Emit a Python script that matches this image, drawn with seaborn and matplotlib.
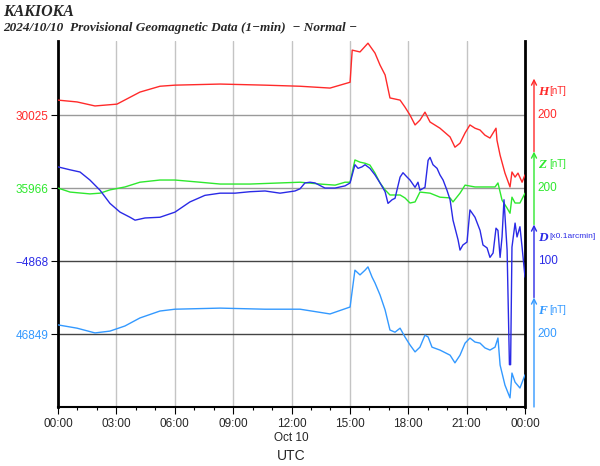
import numpy as np
import pandas as pd
import matplotlib
matplotlib.use("Agg")
import matplotlib.pyplot as plt
import seaborn as sns

# Provisional 1-min data (hours UTC, values)
h_time = [0, 0.98, 1.9, 3.03, 4.21, 5.24, 6.01, 8.33, 10.64, 12.44, 13.98, 15.01, 15.12,
          15.52, 15.93, 16.29, 16.55, 16.81, 17.06, 17.58, 17.83, 18.09, 18.35, 18.6, 18.86,
          19.12, 19.63, 20.15, 20.4, 20.66, 20.92, 21.17, 21.43, 21.69, 21.94, 22.2, 22.51,
          22.56, 22.72, 22.97, 23.23, 23.33, 23.49, 23.64, 23.85, 24.0]
h_nt = [30066, 30061, 30050, 30055, 30088, 30104, 30107, 30110, 30107, 30104, 30099, 30115, 30203,
        30198, 30222, 30195, 30162, 30135, 30072, 30066, 30047, 30025, 29998, 30011, 30033,
        30006, 29989, 29965, 29937, 29948, 29976, 29998, 29989, 29984, 29970, 29962, 29989,
        29956, 29915, 29866, 29828, 29869, 29855, 29866, 29841, 29861]

z_time = [0, 0.62, 1.64, 2.16, 2.67, 3.44, 4.21, 5.24, 6.01, 7.3, 8.33, 9.87, 11.41, 12.44,
          13.46, 14.24, 14.75, 15.01, 15.26, 15.52, 15.78, 16.03, 16.29, 16.55, 16.81, 17.06,
          17.58, 17.83, 18.09, 18.35, 18.6, 19.12, 19.63, 20.15, 20.3, 20.66, 20.92, 21.43,
          21.94, 22.46, 22.61, 22.82, 23.08, 23.23, 23.33, 23.49, 23.74, 24.0]
z_nt = [35966, 35955, 35950, 35952, 35961, 35969, 35982, 35988, 35988, 35982, 35977, 35977, 35980, 35982,
        35977, 35974, 35982, 35982, 36043, 36037, 36034, 36029, 36007, 35980, 35961, 35947,
        35947, 35939, 35925, 35928, 35955, 35952, 35941, 35939, 35928, 35952, 35974, 35969,
        35969, 35969, 35980, 35933, 35911, 35897, 35941, 35925, 35925, 35952]

d_time = [0, 0.62, 1.13, 1.64, 2.16, 2.67, 3.19, 3.7, 3.96, 4.47, 5.24, 6.01, 6.78, 7.55,
          8.33, 9.1, 9.87, 10.64, 11.41, 12.18, 12.44, 12.69, 12.95, 13.21, 13.72, 14.24,
          14.75, 15.01, 15.26, 15.42, 15.62, 15.78, 16.03, 16.29, 16.55, 16.81, 16.96, 17.17,
          17.32, 17.58, 17.73, 17.94, 18.09, 18.35, 18.5, 18.6, 18.86, 19.02, 19.12, 19.27,
          19.48, 19.63, 19.79, 19.99, 20.15, 20.3, 20.56, 20.66, 20.81, 21.02, 21.17, 21.43,
          21.69, 21.84, 22.05, 22.2, 22.36, 22.51, 22.61, 22.72, 22.82, 22.92, 23.08, 23.2,
          23.26, 23.33, 23.49, 23.59, 23.74, 23.85, 24.0]
d_val = [-4739, -4743, -4746, -4757, -4771, -4789, -4801, -4808, -4812, -4809, -4808, -4801, -4787, -4778,
         -4775, -4775, -4773, -4772, -4775, -4772, -4769, -4761, -4760, -4761, -4768, -4768,
         -4765, -4761, -4736, -4741, -4739, -4736, -4741, -4750, -4761, -4773, -4789, -4784,
         -4782, -4753, -4747, -4753, -4757, -4767, -4760, -4771, -4767, -4730, -4726, -4736,
         -4741, -4750, -4757, -4771, -4784, -4812, -4839, -4853, -4846, -4842, -4798, -4808,
         -4826, -4846, -4850, -4863, -4857, -4823, -4826, -4863, -4835, -4784, -4853, -5010,
         -5010, -4849, -4816, -4835, -4821, -4849, -4890]

f_time = [0, 0.98, 1.9, 2.67, 3.44, 4.21, 5.24, 6.01, 8.33, 10.64, 12.44, 13.98, 15.01, 15.26,
          15.52, 15.78, 15.93, 16.14, 16.29, 16.55, 16.81, 17.06, 17.32, 17.58, 17.83, 18.09,
          18.35, 18.6, 18.86, 19.02, 19.22, 19.63, 20.15, 20.4, 20.66, 20.92, 21.17, 21.43,
          21.69, 21.94, 22.2, 22.46, 22.61, 22.72, 22.97, 23.23, 23.33, 23.49, 23.74, 24.0]
f_nt = [46874, 46865, 46852, 46857, 46871, 46893, 46912, 46917, 46920, 46917, 46917, 46904, 46923, 47024,
        47011, 47024, 47033, 47005, 46989, 46956, 46915, 46860, 46854, 46865, 46841, 46819,
        46800, 46813, 46846, 46841, 46813, 46805, 46791, 46770, 46791, 46824, 46838, 46827,
        46824, 46811, 46805, 46813, 46838, 46764, 46709, 46674, 46742, 46717, 46701, 46737]

# baseline of each trace (left labels) and scale labels (right side)
comp_names = ["H", "Z", "D", "F"]
comp_units = ["[nT]", "[nT]", "[x0.1arcmin]", "[nT]"]
base_vals = [30025, 35966, -4868, 46849]
base_labels = ["30025", "35966", "\u22124868", "46849"]
scale_labels = ["200", "200", "100", "200"]
colors = ["#ff2a2a", "#2ee82e", "#2a2ae6", "#3399ff"]

# each trace is drawn around its own row; 200 plot units per row
row_pos = [800, 600, 400, 200]
unit_mult = [1, 1, 2, 1]   # D: 100 x0.1arcmin per row

sns.set_theme(style="white")
plt.rcParams["font.family"] = ["Liberation Sans", "DejaVu Sans"]

fig = plt.figure(figsize=(6, 4.66), dpi=100)
ax = fig.add_axes([58 / 600, 1 - 407 / 466, 467 / 600, 366 / 466])

series = [(h_time, h_nt), (z_time, z_nt), (d_time, d_val), (f_time, f_nt)]
for i, (t, v) in enumerate(series):
    df = pd.DataFrame({"hour": t, "val": v})
    df["y"] = (df["val"] - base_vals[i]) * unit_mult[i] + row_pos[i]
    sns.lineplot(data=df, x="hour", y="y", ax=ax, color=colors[i], lw=1.0, zorder=3)

# grid
for hr in range(3, 24, 3):
    ax.axvline(hr, color="#c4c4c4", lw=1, zorder=1)
for k, yp in enumerate(row_pos):
    ax.axhline(yp, color="#9a9a9a" if k < 2 else "#444444", lw=1, zorder=1)

ax.set_xlim(0, 24)
ax.set_ylim(0, 1003)
ax.set_xticks(range(0, 25, 3))
ax.set_xticks(range(0, 25), minor=True)
xt = ["%02d:00" % (h % 24) for h in range(0, 25, 3)]
xt[4] = "12:00\nOct 10"
ax.set_xticklabels(xt, fontsize=8.5)
ax.set_xlabel("UTC", fontsize=10, labelpad=4)
ax.set_ylabel("")

ax.set_yticks(row_pos)
ax.set_yticklabels(base_labels, fontsize=8.5)
for lab, c in zip(ax.get_yticklabels(), colors):
    lab.set_color(c)

ax.tick_params(axis="x", which="major", direction="out", length=5, width=0.8, color="black", bottom=True, pad=3)
ax.tick_params(axis="x", which="minor", direction="out", length=2.5, width=0.8, color="black", bottom=True)
ax.tick_params(axis="y", direction="out", length=5, width=0.8, color="black", left=True, pad=2)

ax.spines["top"].set_visible(False)
ax.spines["left"].set_linewidth(2)
ax.spines["right"].set_linewidth(2)
ax.spines["bottom"].set_linewidth(1.5)
for s in ["left", "right", "bottom"]:
    ax.spines[s].set_color("black")

# scale arrows at the right
arrow_x = (534 - 58) / 467
arrow_bottom = [700, 500, 300, 0]
unit_size = [7, 7, 6.0, 7]
for i in range(4):
    ax.annotate("", xy=(arrow_x, row_pos[i] + 100), xytext=(arrow_x, arrow_bottom[i]),
                xycoords=("axes fraction", "data"), textcoords=("axes fraction", "data"),
                arrowprops=dict(arrowstyle="->", color=colors[i], lw=1, shrinkA=0, shrinkB=0,
                                mutation_scale=9),
                annotation_clip=False)
    ax.text(arrow_x + 0.008, row_pos[i] + 62, comp_names[i], transform=ax.get_yaxis_transform(),
            color=colors[i], fontsize=9.5, fontweight="bold", fontstyle="italic",
            family="Liberation Serif", va="center", ha="left", clip_on=False)
    ax.text(arrow_x + 0.032, row_pos[i] + 66, comp_units[i], transform=ax.get_yaxis_transform(),
            color=colors[i], fontsize=unit_size[i], va="center", ha="left", clip_on=False)
    ax.text(arrow_x + 0.008, row_pos[i], scale_labels[i], transform=ax.get_yaxis_transform(),
            color=colors[i], fontsize=8.5, va="center", ha="left", clip_on=False)

fig.text(3 / 600, 1 - 12 / 466, "KAKIOKA", family="Liberation Serif", fontsize=11.5,
         fontweight="bold", fontstyle="italic", va="center", ha="left")
fig.text(3 / 600, 1 - 28 / 466, "2024/10/10  Provisional Geomagnetic Data (1\u2212min)  \u2212 Normal \u2212",
         family="Liberation Serif", fontsize=9.5, fontweight="bold", fontstyle="italic",
         va="center", ha="left")

fig.savefig("out.png", dpi=100)
